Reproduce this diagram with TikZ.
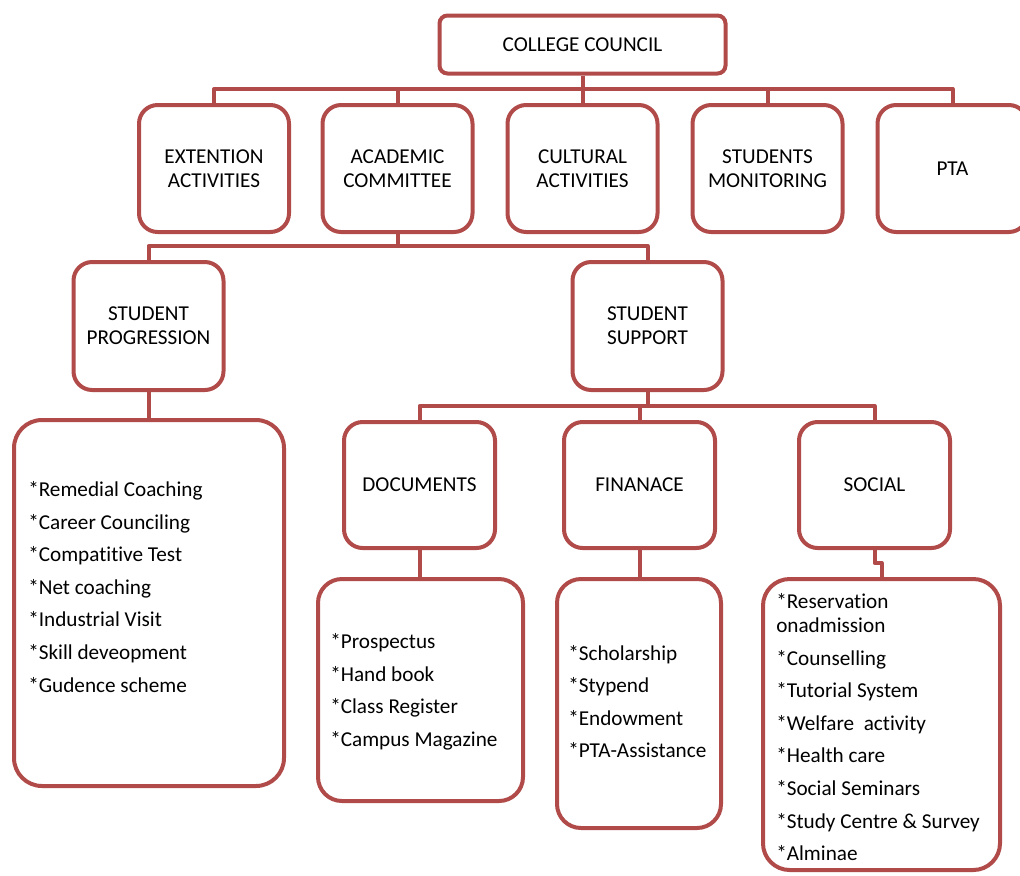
\documentclass[tikz,border=0pt]{standalone}
\usepackage{fontspec}
\setmainfont{Carlito}[Ligatures={NoCommon}]
\definecolor{framered}{RGB}{176,75,73}
\begin{document}
\begin{tikzpicture}[x=0.75pt,y=-0.75pt,
  box/.style={draw=framered, line width=3pt, fill=white, inner sep=0pt, align=center,
    font=\fontsize{15.9}{18}\selectfont, rounded corners=14pt},
  lvl/.style={box, minimum width=112.5pt, minimum height=95.25pt},
  sub/.style={box, minimum width=113.25pt, minimum height=94.5pt},
  listbox/.style={draw=framered, line width=3pt, fill=white, inner sep=0pt, rounded corners=21pt},
  listtext/.style={anchor=north west, inner sep=0pt, align=left, font=\fontsize{15.9}{24.4}\selectfont},
  conn/.style={draw=framered, line width=3pt, line join=round}
]
\useasboundingbox (0,0) rectangle (1020,875);
% top
\node[box, minimum width=214.5pt, minimum height=43.5pt, rounded corners=6pt] (cc) at (582.5,44.5) {COLLEGE COUNCIL};
% level 1
\node[lvl] (ext) at (214,168.5) {EXTENTION\\ACTIVITIES};
\node[lvl] (aca) at (397.5,168.5) {ACADEMIC\\COMMITTEE};
\node[lvl] (cul) at (582.5,168.5) {CULTURAL\\ACTIVITIES};
\node[lvl] (mon) at (767.5,168.5) {STUDENTS\\MONITORING};
\node[lvl] (pta) at (952.5,168.5) {PTA};
% level 2
\node[lvl, minimum height=96pt] (sp) at (148.5,326) {STUDENT\\PROGRESSION};
\node[lvl, minimum height=96pt] (ss) at (647.5,326) {STUDENT\\SUPPORT};
% level 3
\node[sub] (doc) at (419.5,485) {DOCUMENTS};
\node[sub] (fin) at (639.5,485) {FINANACE};
\node[sub] (soc) at (874.5,485) {SOCIAL};
% lists
\node[listbox, minimum width=202.5pt, minimum height=274.5pt] (plist) at (149,603) {};
\node[listbox, minimum width=153.75pt, minimum height=166.5pt, rounded corners=18pt] (dlist) at (420.5,690) {};
\node[listbox, minimum width=123pt, minimum height=186.75pt, rounded corners=18pt] (flist) at (639,703.5) {};
\node[listbox, minimum width=177.75pt, minimum height=218.25pt, rounded corners=20pt] (slist) at (881.5,724.5) {};

\node[listtext] (ptext) at (28,481.5) {*Remedial Coaching\\*Career Counciling\\*Compatitive Test\\*Net coaching\\*Industrial Visit\\*Skill deveopment\\*Gudence scheme};
\node[listtext] (dtext) at (330,633.5) {*Prospectus\\*Hand book\\*Class Register\\*Campus Magazine};
\node[listtext] (ftext) at (568,645) {*Scholarship\\*Stypend\\*Endowment\\*PTA-Assistance};
\node[listtext] (stext) at (776,593.5) {*Reservation\\[-6.4pt]onadmission\\*Counselling\\*Tutorial System\\*Welfare~ activity\\*Health care\\*Social Seminars\\*Study Centre \& Survey\\*Alminae};

% connectors
\coordinate (b1) at (0,89);
\coordinate (b2) at (0,246);
\coordinate (b3) at (0,406);
\coordinate (b4) at (0,563);
\draw[conn] (cc.south) -- (cc.south |- b1);
\draw[conn] (ext.north) -- (ext.north |- b1) -- (pta.north |- b1) -- (pta.north);
\draw[conn] (aca.north) -- (aca.north |- b1);
\draw[conn] (cul.north) -- (cul.north |- b1);
\draw[conn] (mon.north) -- (mon.north |- b1);
\draw[conn] (aca.south) -- (aca.south |- b2);
\draw[conn] (sp.north) -- (sp.north |- b2) -- (ss.north |- b2) -- (ss.north);
\draw[conn] (sp.south) -- (sp.south |- plist.north);
\draw[conn] (ss.south) -- (ss.south |- b3);
\draw[conn] (doc.north) -- (doc.north |- b3) -- (soc.north |- b3) -- (soc.north);
\draw[conn] (fin.north) -- (fin.north |- b3);
\draw[conn] (doc.south) -- (doc.south |- dlist.north);
\draw[conn] (fin.south) -- (fin.south |- flist.north);
\draw[conn] (soc.south) -- (soc.south |- b4) -- (slist.north |- b4) -- (slist.north);
\end{tikzpicture}
\end{document}
